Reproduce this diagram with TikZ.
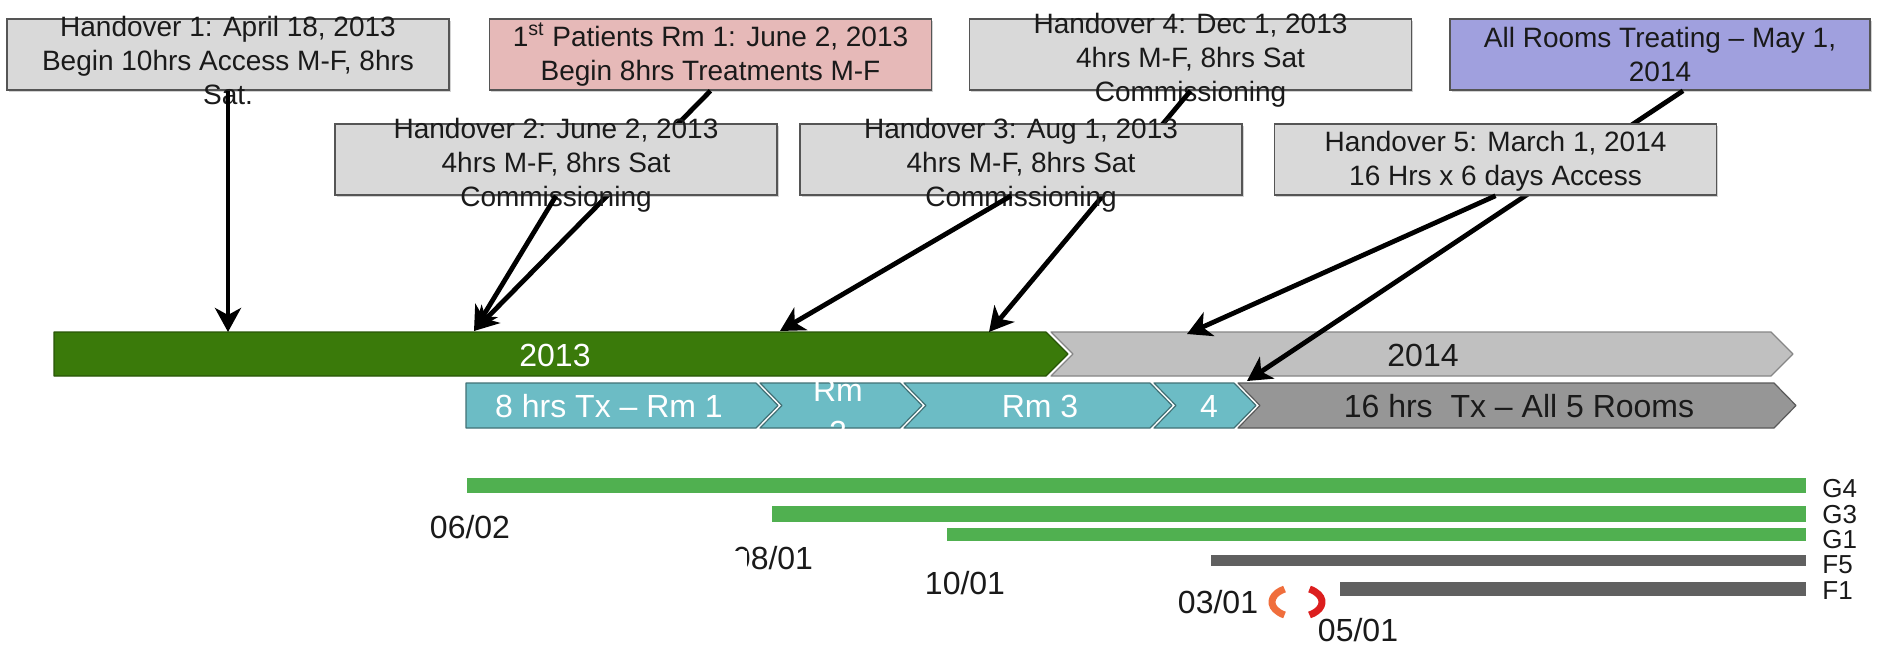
\documentclass[tikz,border=0pt]{standalone}
\usepackage{fontspec}
\setmainfont{Liberation Sans}
\usetikzlibrary{arrows.meta,shadows}

\definecolor{boxgray}{RGB}{217,217,217}
\definecolor{boxline}{RGB}{85,85,85}
\definecolor{pinkfill}{RGB}{230,185,184}
\definecolor{lavfill}{RGB}{160,160,222}
\definecolor{green13}{RGB}{58,122,10}
\definecolor{gray14}{RGB}{192,192,192}
\definecolor{tealfill}{RGB}{108,188,197}
\definecolor{gray16}{RGB}{150,150,150}
\definecolor{ganttgreen}{RGB}{80,176,80}
\definecolor{ganttgray}{RGB}{96,96,96}
\definecolor{txt}{RGB}{26,26,26}

\tikzset{
  hobox/.style={draw=boxline, line width=0.8pt, fill=boxgray, minimum width=221pt,
    minimum height=35.5pt, inner sep=0pt,
    drop shadow={shadow xshift=0.8pt, shadow yshift=-0.8pt, opacity=0.35}},
  hotext/.style={align=center, inner sep=0pt, text=txt, font=\fontsize{14}{17}\selectfont},
  hoarrow/.style={line width=2.4pt, -{Stealth[length=12pt, width=13pt, inset=3.5pt]}},
  barline/.style={line width=0.6pt, line join=round},
  bartext/.style={inner sep=0pt, font=\fontsize{16}{21}\selectfont},
  gbar/.style={fill=ganttgreen},
  fbar/.style={fill=ganttgray},
  rowlabel/.style={anchor=west, inner sep=0pt, text=txt, font=\fontsize{13}{13}\selectfont},
  datelabel/.style={inner sep=0pt, text=txt, font=\fontsize{16}{16}\selectfont},
  redmark/.style={line width=3.5pt},
}

\begin{document}
\begin{tikzpicture}[x=0.5pt, y=-0.5pt]
    \fill[white] (0,0) rectangle (1894,648);
    \useasboundingbox (0,0) rectangle (1894,648);

    % year bars
    \filldraw[barline, fill=green13, draw=green13!70!black] (54,332) -- (1046,332) -- (1068,354) -- (1046,376) -- (54,376) -- cycle;
    \filldraw[barline, fill=gray14, draw=gray14!70!black] (1051,332) -- (1771,332) -- (1793,354) -- (1771,376) -- (1051,376) -- (1073,354) -- cycle;
    \node[bartext, text=white] (y2013) at (555,355) {2013};
    \node[bartext, text=txt] (y2014) at (1423,355) {2014};

    % treatment bars
    \filldraw[barline, fill=tealfill, draw=tealfill!60!black] (466,383) -- (756,383) -- (778,405.5) -- (756,428) -- (466,428) -- cycle;
    \filldraw[barline, fill=tealfill, draw=tealfill!60!black] (760,383) -- (900,383) -- (922,405.5) -- (900,428) -- (760,428) -- (782,405.5) -- cycle;
    \filldraw[barline, fill=tealfill, draw=tealfill!60!black] (904,383) -- (1150,383) -- (1172,405.5) -- (1150,428) -- (904,428) -- (926,405.5) -- cycle;
    \filldraw[barline, fill=tealfill, draw=tealfill!60!black] (1154,383) -- (1234,383) -- (1256,405.5) -- (1234,428) -- (1154,428) -- (1176,405.5) -- cycle;
    \filldraw[barline, fill=gray16, draw=gray16!60!black] (1238,383) -- (1774,383) -- (1796,405.5) -- (1774,428) -- (1238,428) -- (1260,405.5) -- cycle;
    \node[bartext, text=white] (rm1) at (609,406) {8 hrs Tx – Rm 1};
    \node[bartext, text=white, align=center] (rm2) at (838,411) {Rm\\2};
    \node[bartext, text=white] (rm3) at (1040,406) {Rm 3};
    \node[bartext, text=white] (rm4) at (1209,406) {4};
    \node[bartext, text=txt] (rmall) at (1519,406) {16 hrs\ \ Tx – All 5 Rooms};

    % arrow ends on the bars
    \coordinate (a1) at (228,332);
    \coordinate (a2) at (474,331);
    \coordinate (a3) at (780,331);
    \coordinate (a4) at (989,332);
    \coordinate (a5) at (1187,334);
    \coordinate (a6) at (1247,381);

    % upper row of milestones
    \node[hobox] (h1) at (228,54.5) {};
    \node[hotext, yshift=-3pt] (h1t) at (h1) {Handover 1: April 18, 2013\\Begin 10hrs Access M-F, 8hrs\\Sat.};
    \node[hobox, fill=pinkfill] (p1) at (710.5,54.5) {};
    \node[hotext] (p1t) at (p1) {1\textsuperscript{st} Patients Rm 1: June 2, 2013\\Begin 8hrs Treatments M-F};
    \node[hobox] (h4) at (1190.5,54.5) {};
    \node[hotext, yshift=-3pt] (h4t) at (h4) {Handover 4: Dec 1, 2013\\4hrs M-F, 8hrs Sat\\Commissioning};
    \node[hobox, fill=lavfill, minimum width=210pt] (ar) at (1660,54.5) {};
    \node[hotext] (art) at (ar) {All Rooms Treating – May 1,\\2014};

    \draw[hoarrow] (h1.south) -- (a1);
    \draw[hoarrow] (p1.south) -- (a2);
    \draw[hoarrow] (h4.south) -- (a4);
    \draw[hoarrow] ([xshift=11.5pt]ar.south) -- (a6);

    % lower row of milestones
    \node[hobox] (h2) at (556,159.5) {};
    \node[hotext, yshift=-3pt] (h2t) at (h2) {Handover 2: June 2, 2013\\4hrs M-F, 8hrs Sat\\Commissioning};
    \node[hobox] (h3) at (1021,159.5) {};
    \node[hotext, yshift=-3pt] (h3t) at (h3) {Handover 3: Aug 1, 2013\\4hrs M-F, 8hrs Sat\\Commissioning};
    \node[hobox] (h5) at (1495.5,159.5) {};
    \node[hotext, yshift=-1pt] (h5t) at (h5) {Handover 5: March 1, 2014\\16 Hrs x 6 days Access};

    \draw[hoarrow] (h2.south) -- (a2);
    \draw[hoarrow] ([xshift=-5pt]h3.south) -- (a3);
    \draw[hoarrow] (h5.south) -- (a5);

    % room bars
    \fill[gbar] (467,478) rectangle (1806,493);
    \fill[gbar] (772,506) rectangle (1806,522);
    \fill[gbar] (947,528) rectangle (1806,541);
    \fill[fbar] (1211,555) rectangle (1806,566);
    \fill[fbar] (1340,582) rectangle (1806,596);
    \node[rowlabel] (lg4) at (1822,489) {G4};
    \node[rowlabel] (lg3) at (1822,515) {G3};
    \node[rowlabel] (lg1) at (1822,540) {G1};
    \node[rowlabel] (lf5) at (1822,565) {F5};
    \node[rowlabel] (lf1) at (1822,591) {F1};

    % start dates
    \node[datelabel] (d1) at (470,527) {06/02};
    \node[datelabel] (d2) at (773,558) {08/01};
    \fill[white] (725,551) rectangle (747,576);
    \node[datelabel] (d3) at (965,583) {10/01};
    \node[datelabel] (d4) at (1218,602) {03/01};
    \node[datelabel] (d5) at (1358,630) {05/01};
    \coordinate (rc) at (1297,602);
    \draw[redmark, draw={rgb,255:red,240;green,110;blue,60}] (rc) ++(120:12.5pt and 7.5pt) arc[start angle=120, end angle=240, x radius=12.5pt, y radius=7.5pt];
    \draw[redmark, draw={rgb,255:red,220;green,30;blue,30}] (rc) ++(-60:12.5pt and 7.5pt) arc[start angle=-60, end angle=60, x radius=12.5pt, y radius=7.5pt];
\end{tikzpicture}
\end{document}
